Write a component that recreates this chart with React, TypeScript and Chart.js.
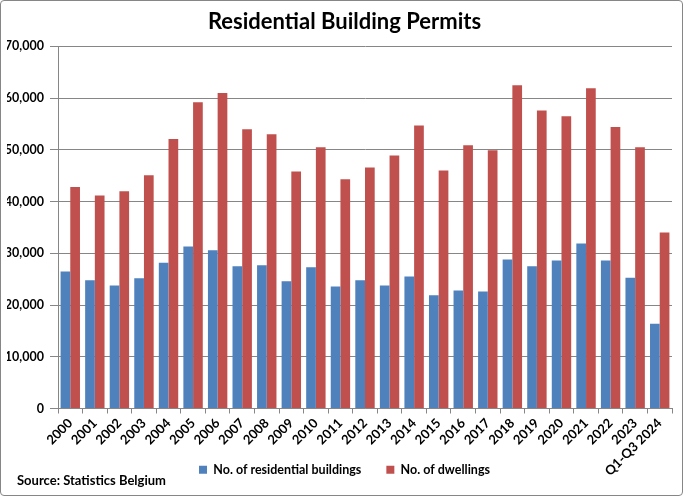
import React, { useEffect, useRef } from "react";
import { Chart, registerables } from "chart.js";

Chart.register(...registerables);

const TITLE = "Residential Building Permits";
const SOURCE = "Source: Statistics Belgium";

const years = [
  "2000", "2001", "2002", "2003", "2004", "2005", "2006", "2007", "2008",
  "2009", "2010", "2011", "2012", "2013", "2014", "2015", "2016", "2017",
  "2018", "2019", "2020", "2021", "2022", "2023", "Q1-Q3 2024",
];

const residentialBuildings = [
  26500, 24800, 23800, 25200, 28200, 31300, 30600, 27500, 27700,
  24600, 27300, 23600, 24800, 23800, 25500, 21900, 22800, 22600,
  28800, 27500, 28600, 31900, 28600, 25300, 16400,
];

const dwellings = [
  42800, 41200, 42000, 45100, 52100, 59200, 61000, 54000, 53000,
  45800, 50500, 44300, 46600, 48900, 54700, 46000, 50900, 49900,
  62500, 57600, 56500, 61900, 54400, 50500, 34000,
];

const seriesNames = ["No. of residential buildings", "No. of dwellings"];
const seriesColors = ["#4F81BD", "#C0504D"];

const yMin = 0;
const yMax = 70000;
const yStep = 10000;

const FONT = "Lato, 'Open Sans', sans-serif";
const GRID = "#868686";

// Writes the data source note in the lower-left corner of the canvas.
const sourceNote = {
  id: "sourceNote",
  afterDraw(chart: any) {
    const { ctx } = chart;
    ctx.save();
    ctx.font = `bold 13px ${FONT}`;
    ctx.fillStyle = "#000";
    ctx.textAlign = "left";
    ctx.textBaseline = "middle";
    ctx.fillText(SOURCE, 16, 480);
    ctx.restore();
  },
};

// The rotated year labels reach below the x-axis box; widen its clip area
// down to the canvas edge so long labels are not cut off.
const fullLabelClip = {
  id: "fullLabelClip",
  afterLayout(chart: any) {
    const x = chart.scales.x;
    if (x) x.bottom = chart.height;
  },
};

export default function App() {
  const canvasRef = useRef<HTMLCanvasElement | null>(null);

  useEffect(() => {
    document.body.style.margin = "0";
    const canvas = canvasRef.current;
    if (!canvas) return;

    const chart = new Chart(canvas, {
      type: "bar",
      data: {
        labels: years,
        datasets: [
          {
            label: seriesNames[0],
            data: residentialBuildings,
            backgroundColor: seriesColors[0],
            borderWidth: 0,
            categoryPercentage: 0.79,
            barPercentage: 1,
          },
          {
            label: seriesNames[1],
            data: dwellings,
            backgroundColor: seriesColors[1],
            borderWidth: 0,
            categoryPercentage: 0.79,
            barPercentage: 1,
          },
        ],
      },
      options: {
        responsive: false,
        animation: false,
        devicePixelRatio: 1,
        layout: { padding: { left: 6, right: 0, top: 0, bottom: 9 } },
        plugins: {
          title: {
            display: true,
            text: TITLE,
            color: "#000",
            font: { family: FONT, size: 22, weight: "bold" },
            padding: { top: 8, bottom: 11 },
          },
          legend: {
            display: true,
            position: "bottom",
            labels: {
              color: "#000",
              boxWidth: 8,
              boxHeight: 8,
              padding: 25,
              font: { family: FONT, size: 12.5, weight: "bold" },
            },
          },
          tooltip: { enabled: false },
        },
        scales: {
          x: {
            grid: {
              display: true,
              drawOnChartArea: false,
              color: GRID,
              tickLength: 5,
              offset: true,
            },
            border: { display: true, color: GRID, width: 1 },
            ticks: {
              autoSkip: false,
              minRotation: 45,
              maxRotation: 45,
              color: "#000",
              padding: 2,
              font: { family: FONT, size: 13, weight: "bold" },
            },
            afterFit(scale: any) {
              scale.height = 30;
            },
          },
          y: {
            min: yMin,
            max: yMax,
            grid: { color: GRID, tickLength: 8 },
            border: { display: true, color: GRID, width: 1 },
            ticks: {
              stepSize: yStep,
              color: "#000",
              padding: 6,
              font: { family: FONT, size: 12.5, weight: "bold" },
              callback: (v: any) => Number(v).toLocaleString("en-US"),
            },
            afterFit(scale: any) {
              scale.width = 51;
            },
          },
          // Empty spacer on the right so the plot ends short of the frame.
          spacer: {
            type: "linear",
            position: "right",
            display: true,
            grid: { display: false },
            border: { display: false },
            ticks: { display: false },
            afterFit(scale: any) {
              scale.width = 10;
            },
          },
        },
      },
      plugins: [sourceNote, fullLabelClip],
    } as any);

    return () => chart.destroy();
  }, []);

  return (
    <div
      style={{
        position: "relative",
        width: 683,
        height: 496,
        boxSizing: "border-box",
        border: `1px solid ${GRID}`,
        borderRadius: 4,
        background: "#fff",
        overflow: "hidden",
      }}
    >
      <canvas
        ref={canvasRef}
        width={681}
        height={494}
        style={{ display: "block", width: 681, height: 494 }}
      />
    </div>
  );
}
